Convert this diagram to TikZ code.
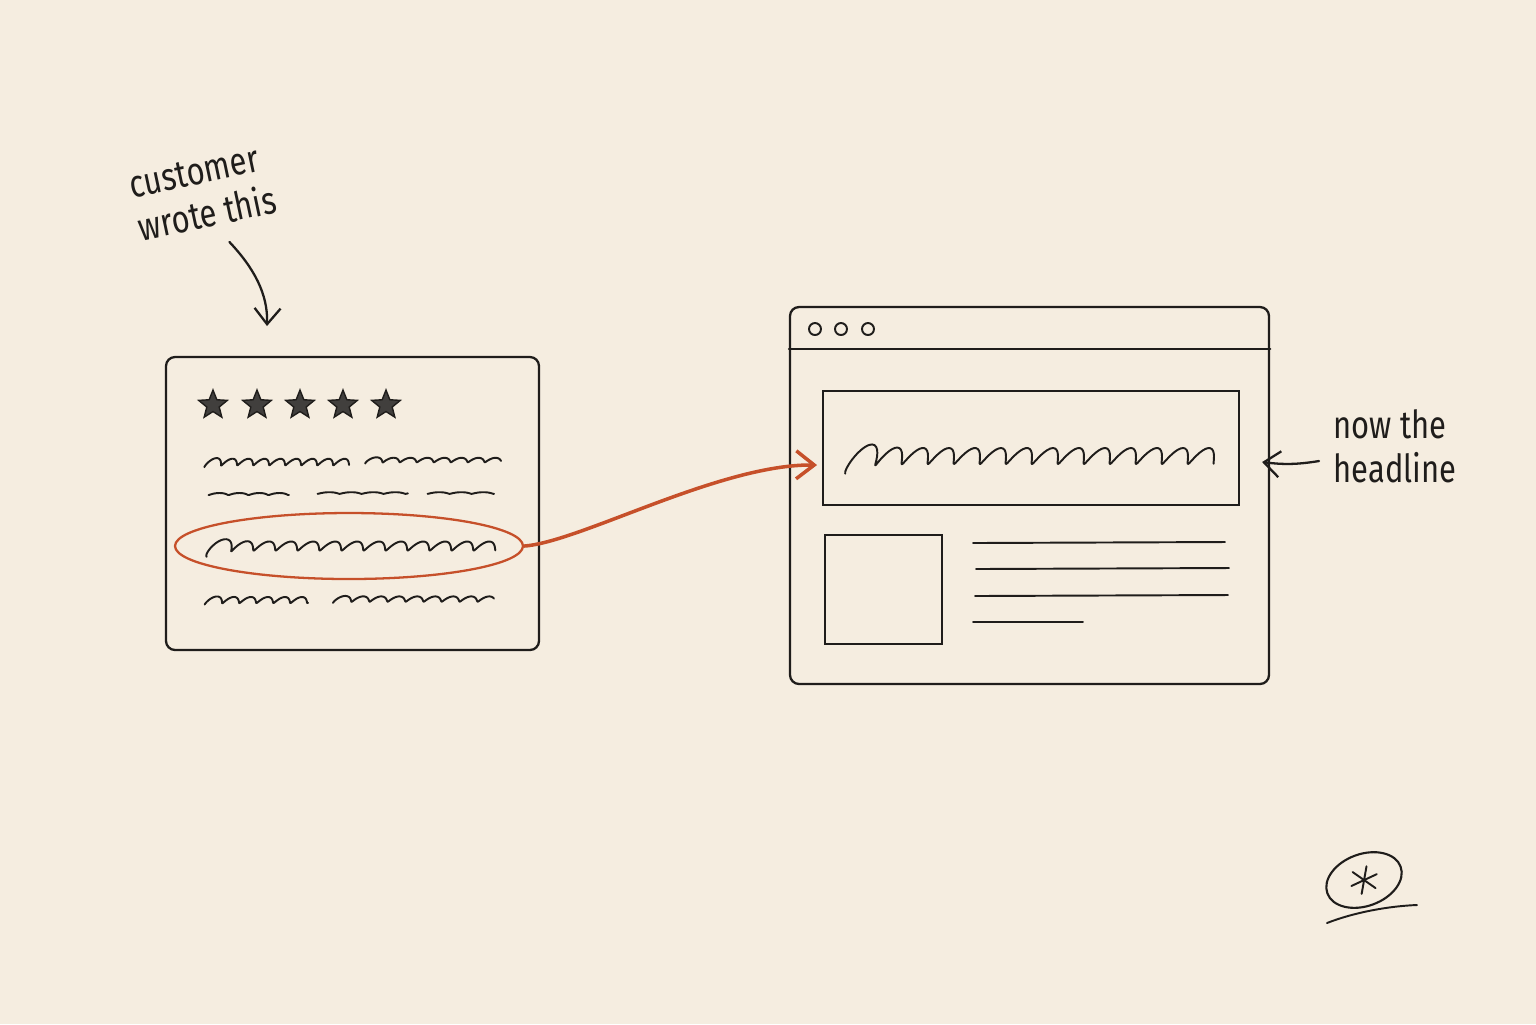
\documentclass[tikz,border=0pt]{standalone}
\usepackage{fontspec}
\setmainfont{Fira Sans}[FakeStretch=0.8]
\usetikzlibrary{shapes.geometric,arrows.meta,calc}
\definecolor{paper}{HTML}{F5EDE0}
\definecolor{ink}{HTML}{1F1D1B}
\definecolor{rust}{HTML}{C6502A}
\newcommand{\squig}[6]{%
  \pgfmathsetmacro\sqend{(#2-#1)/#4*360}%
  \draw[pen] plot[smooth, domain=0:\sqend, samples=260, variable=\t]
    ({#1+\t/360*#4-#4/6.283*(0.6+#6*exp(-\t/180))*sin(\t)-0.5*#5*(1+#6*exp(-\t/180))*cos(\t)},
     {#3-#5*(1+#6*exp(-\t/180))*cos(\t)});}
\begin{document}
\begin{tikzpicture}[scale=0.1,
  pen/.style={ink, line width=0.55pt, line cap=round, line join=round},
  panel/.style={draw=ink, line width=0.65pt, rounded corners=0.9mm},
  box/.style={draw=ink, line width=0.65pt},
  note/.style={text=ink, font=\fontsize{11}{12.6}\selectfont},
  starmark/.style={star, star points=5, star point ratio=2.3, fill=ink!85, draw=ink, minimum size=3mm},
  inkarrow/.style={pen, line width=0.65pt, -{Straight Barb[length=1.6mm,width=2.6mm]}},
  rustarrow/.style={rust, line width=1pt, line cap=round, -{Straight Barb[length=1.8mm,width=2.8mm]}}]
\tikzstyle{every node}+=[inner sep=0pt]
\fill [paper] (0,0) rectangle (153.6,-102.4);
\node [panel, minimum width=37.3mm, minimum height=29.3mm] (review) at (35.25,-50.35) {};
\foreach \i/\x in {1/21.3,2/25.7,3/30.0,4/34.3,5/38.6}
  \node [starmark] (star\i) at (\x,-40.5) {};
\squig{20.7}{35.0}{-46.2}{1.6}{0.32}{0.6}
\squig{36.7}{50.0}{-46.0}{1.7}{0.22}{0.6}
\squig{20.9}{29.0}{-49.4}{2.0}{0.1}{0}
\squig{31.8}{41.0}{-49.3}{2.2}{0.08}{0}
\squig{42.8}{49.5}{-49.3}{2.2}{0.08}{0}
\squig{21.2}{49.7}{-54.6}{2.2}{0.45}{1.4}
\squig{20.7}{31.0}{-60.0}{1.7}{0.3}{0.5}
\squig{33.5}{49.2}{-59.9}{1.8}{0.26}{0.5}
\node [draw=rust, ellipse, line width=0.65pt, minimum width=34.8mm, minimum height=6.6mm] (pick) at (34.9,-54.6) {};
\node [panel, minimum width=47.9mm, minimum height=37.7mm] (page) at (102.95,-49.55) {};
\draw [pen, line width=0.65pt] (page.west |- 0,-34.9) -- (page.east |- 0,-34.9);
\foreach \x in {81.5,84.1,86.8}
  \draw [pen] (\x,-32.9) circle (0.6);
\node [box, minimum width=41.6mm, minimum height=11.4mm] (head) at (103.1,-44.8) {};
\squig{85.4}{121.7}{-45.6}{2.6}{0.8}{1.2}
\node [box, minimum width=11.7mm, minimum height=10.9mm] (thumb) at (88.35,-58.95) {};
\draw [pen] (97.3,-54.3) -- (122.5,-54.2);
\draw [pen] (97.6,-56.9) -- (122.9,-56.8);
\draw [pen] (97.5,-59.6) -- (122.8,-59.5);
\draw [pen] (97.3,-62.2) -- (108.3,-62.2);
\coordinate (headin) at (81.7,-46.5);
\draw [rustarrow] (pick.east) .. controls (58,-54.2) and (72,-46.4) .. (headin);
\node [note, rotate=12, align=left] (cust) at (20.3,-19.3) {customer\\wrote this};
\coordinate (custtip) at (26.7,-32.6);
\draw [inkarrow] ($(cust.south)+(1.9,-1.4)$) .. controls (25.4,-26.8) and (26.8,-29.4) .. (custtip);
\node [note, align=left] (nowhead) at (139.5,-44.6) {now the\\headline};
\coordinate (pagein) at (126.2,-46.2);
\draw [inkarrow] ($(nowhead.west)+(-1.4,-1.5)$) to [bend left=8] (pagein);
\node [draw=ink, ellipse, line width=0.6pt, rotate=20, minimum width=7.8mm, minimum height=5.2mm] (mark) at (136.4,-88.0) {};
\foreach \a in {80,25,145}
  \draw [pen, shift={(mark.center)}] (\a:1.4) -- (\a+180:1.4);
\draw [pen] (132.7,-92.3) .. controls (135.5,-91.2) and (139,-90.6) .. (141.7,-90.5);
\end{tikzpicture}
\end{document}
